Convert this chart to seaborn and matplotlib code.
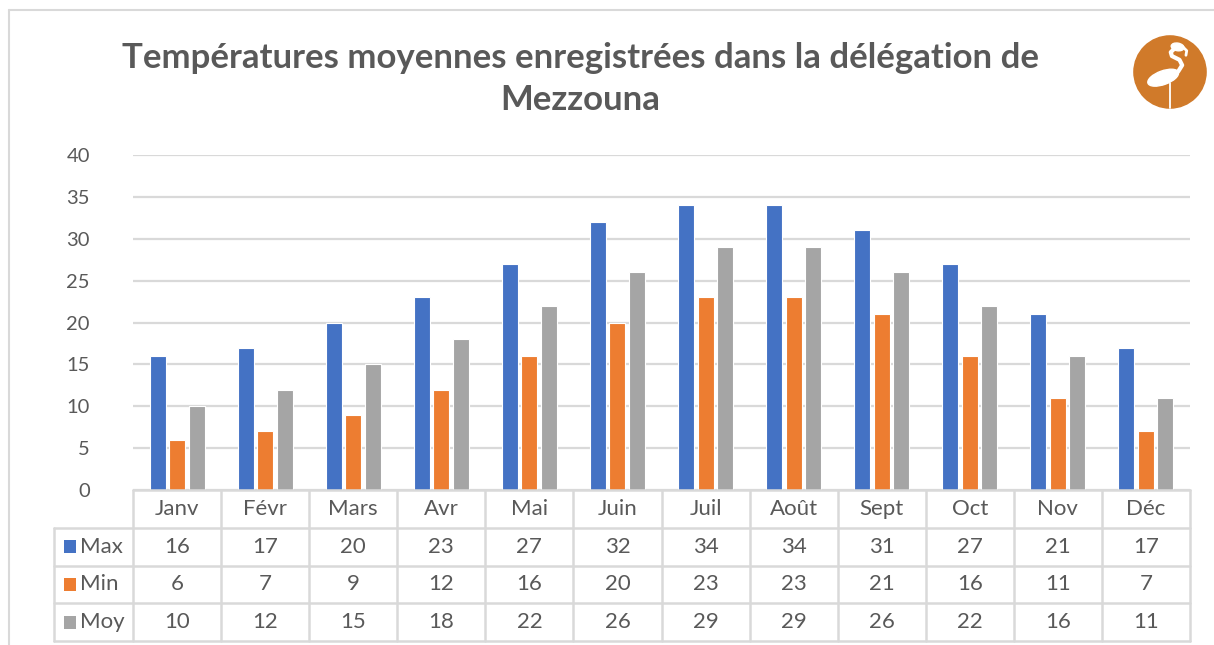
import matplotlib
matplotlib.use('Agg')

import numpy as np
import pandas as pd
import seaborn as sns
from matplotlib import pyplot as plt
from matplotlib.patches import Rectangle, Circle, Ellipse

mois = ['Janv', 'Févr', 'Mars', 'Avr', 'Mai', 'Juin', 'Juil', 'Août', 'Sept', 'Oct', 'Nov', 'Déc']
t_max = [16, 17, 20, 23, 27, 32, 34, 34, 31, 27, 21, 17]
t_min = [6, 7, 9, 12, 16, 20, 23, 23, 21, 16, 11, 7]
t_moy = [10, 12, 15, 18, 22, 26, 29, 29, 26, 22, 16, 11]
series = ['Max', 'Min', 'Moy']
couleurs = ['#4472C4', '#ED7D31', '#A5A5A5']

sns.set_style('white')
plt.rcParams['font.family'] = ['Lato', 'DejaVu Sans']
gris = '#595959'
ligne = '#D9D9D9'

W, H = 1214, 645
fig = plt.figure(figsize=(W / 100, H / 100), dpi=100)

df = pd.DataFrame({'Mois': mois * 3,
                   'Série': np.repeat(series, len(mois)),
                   'Valeur': t_max + t_min + t_moy})

# zone du graphique (en pixels de l'image)
x0, x1, y_top, y_bot = 133, 1190, 155, 490
ax = fig.add_axes([x0 / W, 1 - y_bot / H, (x1 - x0) / W, (y_bot - y_top) / H])
sns.barplot(data=df, x='Mois', y='Valeur', hue='Série', hue_order=series,
            palette=couleurs, saturation=1, width=0.665, gap=0.18,
            edgecolor='white', linewidth=0.8, legend=False, ax=ax, zorder=3)
ax.set_xlim(-0.5, len(mois) - 0.5)
ax.set_ylim(0, 40)
ax.set_yticks(range(0, 41, 5))
ax.yaxis.grid(True, color=ligne, linewidth=1.6, zorder=0)
ax.set_axisbelow(True)
ax.set_xlabel('')
ax.set_ylabel('')
ax.set_xticks([])
ax.tick_params(axis='y', length=0, pad=31, labelsize=14.5, labelcolor=gris)
for s in ax.spines.values():
    s.set_visible(False)

# tableau de données sous le graphique
cat_w = (x1 - x0) / len(mois)
lab_w = (x0 - 54) / cat_w
tab_bot = 641
tx = fig.add_axes([54 / W, 1 - tab_bot / H, (x1 - 54) / W, (tab_bot - y_bot) / H])
tx.set_xlim(-0.5 - lab_w, len(mois) - 0.5)
tx.set_ylim(4, 0)
tx.axis('off')
n = len(mois)
kw = dict(color=ligne, linewidth=1.8, clip_on=False)
tx.plot([-0.5, n - 0.5], [0, 0], **kw)
for r in range(1, 5):
    tx.plot([-0.5 - lab_w, n - 0.5], [r, r], **kw)
for k in range(n + 1):
    tx.plot([k - 0.5, k - 0.5], [0, 4], **kw)
tx.plot([-0.5 - lab_w, -0.5 - lab_w], [1, 4], **kw)
fs = 16
for i, m in enumerate(mois):
    tx.text(i, 0.5, m, ha='center', va='center', fontsize=fs, color=gris)
valeurs = [t_max, t_min, t_moy]
for r, (nom, vals, c) in enumerate(zip(series, valeurs, couleurs)):
    y = r + 1.5
    tx.add_patch(Rectangle((-0.5 - lab_w + 0.11, y - 0.17), 0.14, 0.34,
                           facecolor=c, edgecolor='none'))
    tx.text(-0.5 - lab_w + 0.3, y, nom, ha='left', va='center', fontsize=fs, color=gris)
    for i, v in enumerate(vals):
        tx.text(i, y, str(v), ha='center', va='center', fontsize=fs, color=gris)

# titre
fig.text(580 / W, 1 - 79 / H,
         'Températures moyennes enregistrées dans la délégation de\nMezzouna',
         ha='center', va='center', fontsize=25, fontweight='bold', color=gris,
         linespacing=1.35)

# cadre extérieur
fig.add_artist(plt.Line2D([9 / W, 1], [1 - 10 / H, 1 - 10 / H], color=ligne,
                          linewidth=1.5, transform=fig.transFigure))
fig.add_artist(plt.Line2D([9 / W, 9 / W], [0, 1 - 10 / H], color=ligne,
                          linewidth=1.5, transform=fig.transFigure))

# logo (flamant)
lg = fig.add_axes([(1170 - 38) / W, 1 - (72 + 38) / H, 76 / W, 76 / H])
lg.set_xlim(-1, 1)
lg.set_ylim(-1, 1)
lg.set_aspect('equal')
lg.axis('off')
orange = '#D07A2A'
lg.add_patch(Circle((0, 0), 0.95, color=orange))
lg.add_patch(Ellipse((-0.18, -0.15), 0.85, 0.36, angle=20, color='white'))
cou_x = [0.12, 0.02, 0.05, 0.25, 0.32, 0.22, 0.12]
cou_y = [0.62, 0.52, 0.42, 0.32, 0.18, 0.02, -0.08]
lg.plot(cou_x, cou_y, color='white', linewidth=3, solid_capstyle='round',
        solid_joinstyle='round')
lg.add_patch(Ellipse((0.2, 0.66), 0.34, 0.2, angle=-10, color='white'))
lg.plot([0.34, 0.44, 0.42], [0.66, 0.56, 0.44], color='white', linewidth=2,
        solid_capstyle='round')
lg.plot([0.0, 0.0], [-0.3, -0.95], color='white', linewidth=1.3)

fig.savefig('out.png', dpi=100)
